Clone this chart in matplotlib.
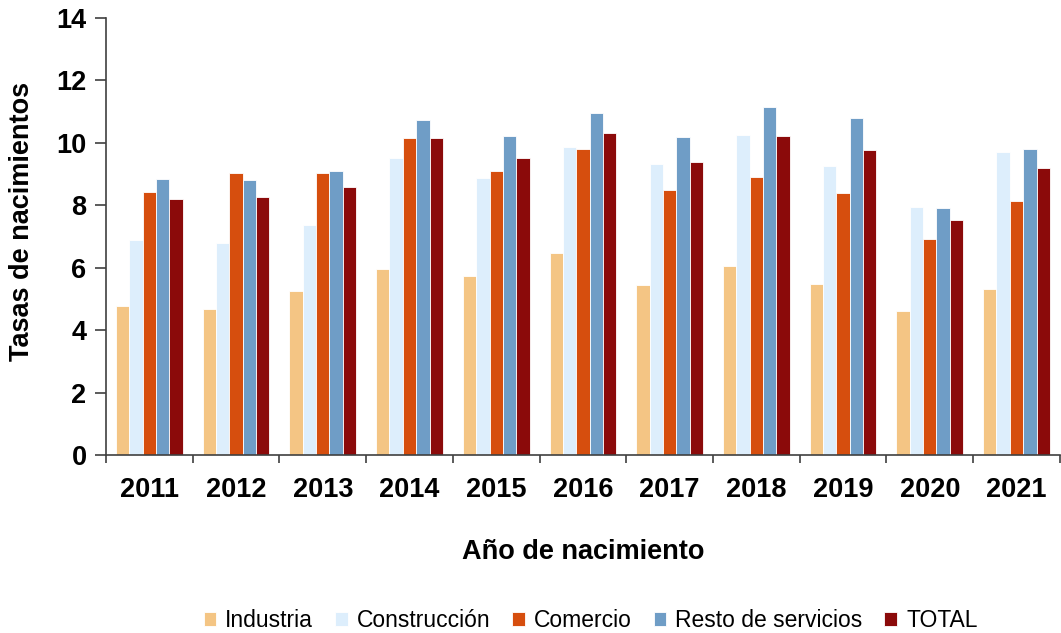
import matplotlib.pyplot as plt
import numpy as np

plt.rcParams["font.family"] = ["Liberation Sans", "DejaVu Sans"]

YEARS = ["2011", "2012", "2013", "2014", "2015", "2016", "2017", "2018", "2019", "2020", "2021"]

industria = [4.76, 4.68, 5.24, 5.95, 5.74, 6.47, 5.44, 6.07, 5.47, 4.61, 5.32]
construccion = [6.89, 6.78, 7.37, 9.51, 8.88, 9.87, 9.32, 10.25, 9.25, 7.94, 9.70]
comercio = [8.42, 9.03, 9.03, 10.15, 9.10, 9.80, 8.50, 8.91, 8.38, 6.92, 8.13]
resto_servicios = [8.83, 8.80, 9.10, 10.74, 10.22, 10.97, 10.18, 11.15, 10.78, 7.90, 9.80]
total = [8.20, 8.28, 8.58, 10.15, 9.51, 10.30, 9.40, 10.21, 9.76, 7.52, 9.21]

SERIES = {
    "Industria": industria,
    "Construcción": construccion,
    "Comercio": comercio,
    "Resto de servicios": resto_servicios,
    "TOTAL": total,
}

COLORS = {
    "Industria": "#F4C584",
    "Construcción": "#DDEEFC",
    "Comercio": "#D64E0E",
    "Resto de servicios": "#6F9DC6",
    "TOTAL": "#8B0A0A",
}


def main():
    fig = plt.figure(figsize=(10.61, 6.33), dpi=100)
    ax = fig.add_axes([0.0999, 0.2812, 0.899, 0.6904])

    x = np.arange(len(YEARS))
    width = 0.154
    n = len(SERIES)
    for i, (name, values) in enumerate(SERIES.items()):
        offset = (i - (n - 1) / 2) * width
        ax.bar(x + offset, values, width, color=COLORS[name], label=name,
               edgecolor="white", linewidth=0.6, zorder=2)

    ax.set_xlim(-0.5, len(YEARS) - 0.5)
    ax.set_ylim(0, 14)
    ax.set_yticks(range(0, 15, 2))
    ax.set_yticklabels([str(v) for v in range(0, 15, 2)], fontsize=19.5, fontweight="bold")

    ax.set_xticks(x)
    ax.set_xticklabels(YEARS, fontsize=19.5, fontweight="bold")
    ax.tick_params(axis="x", length=0, pad=16)
    ax.set_xticks(np.arange(-0.5, len(YEARS), 1), minor=True)
    ax.tick_params(axis="x", which="minor", length=6, width=1.2, color="#404040")
    ax.tick_params(axis="y", length=8, width=1.2, color="#404040", pad=6)

    for side in ("top", "right"):
        ax.spines[side].set_visible(False)
    for side in ("left", "bottom"):
        ax.spines[side].set_linewidth(1.2)
        ax.spines[side].set_color("#404040")

    ax.set_ylabel("Tasas de nacimientos", fontsize=19.5, fontweight="bold")
    ax.yaxis.set_label_coords(-0.074, 0.535)
    ax.set_xlabel("Año de nacimiento", fontsize=19.5, fontweight="bold", labelpad=26)

    ax.legend(loc="upper center", bbox_to_anchor=(0.508, -0.305), ncol=5, frameon=False,
              fontsize=16.5, handlelength=0.55, handleheight=0.55, handletextpad=0.4,
              columnspacing=0.95)

    fig.savefig("out.png", dpi=100)


if __name__ == "__main__":
    main()
